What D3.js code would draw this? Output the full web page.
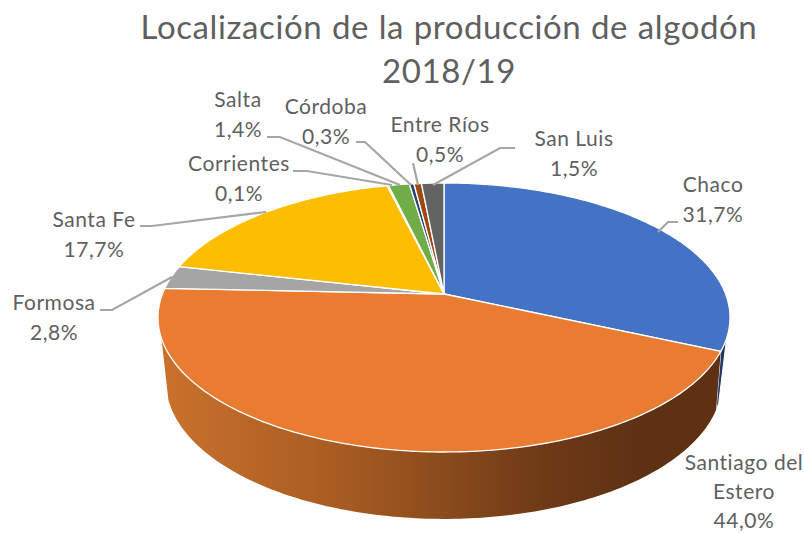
<!DOCTYPE html>
<html><head><meta charset="utf-8">
<script src="https://cdn.jsdelivr.net/npm/d3@7"></script>
<style>html,body{margin:0;background:#fff}svg{display:block}text{font-family:Lato,"Open Sans",sans-serif;fill:#5f5f5f}</style>
</head><body><svg id="c" width="804" height="533"></svg>
<script>
const categories=["Chaco","Santiago del Estero","Formosa","Santa Fe","Corrientes","Salta","Córdoba","Entre Ríos","San Luis"];
const shares=[31.7,44.0,2.8,17.7,0.1,1.4,0.3,0.5,1.5];
const colors=["#4472C4","#EA7C32","#A5A5A5","#FDBD00","#5B9BD5","#70AD47","#264478","#9E480E","#636363"];
const titleLines=["Localización de la producción de algodón","2018/19"];
const labelLines=[["Chaco"],["Santiago del","Estero"],["Formosa"],["Santa Fe"],["Corrientes"],["Salta"],["Córdoba"],["Entre Ríos"],["San Luis"]];
const labelAnchors=[[713,192],[744,470],[54,310],[94,227],[239,171],[238,107],[326,114],[440,132],[574,146]];
const labelSteps=[29.6,29,29.6,29.6,29.6,29.6,29.6,29.6,29.6];
const leaders=[[[678,222],[668,222],[658,232]],null,[[100,310],[112,310],[172,277]],[[140,226],[152,226],[266,212]],[[293,171],[307,171],[392,185]],[[267,137],[280,137],[400,185]],[[356,142],[365,142],[411,185]],[[413,163],[418,185]],[[515,148],[500,148],[433,185]]];

const svg=d3.select("#c");
const K=-0.1747;
const topDisk={x:444,y:294,a:281.6,b:130.4};
const baseDisk={x:444,y:358,a:273.7,b:132.8};
const pt=(d,t)=>{const u=Math.sin(t),v=-Math.cos(t),w=1+K*v;return [d.x+d.a*u/w,d.y+d.b*v/w];};
const arcPts=(d,t0,t1)=>{const n=Math.max(2,Math.ceil(Math.abs(t1-t0)*60));return d3.range(n+1).map(i=>pt(d,t0+(t1-t0)*i/n));};
const line=d3.line().curve(d3.curveLinear);
const rad=x=>x*Math.PI/180;

const pie=d3.pie().sort(null).value(d=>d)(shares);

const defs=svg.append("defs");
const g=defs.append("linearGradient").attr("id","wall").attr("gradientUnits","userSpaceOnUse").attr("x1",158).attr("x2",640).attr("y1",0).attr("y2",0);
[[0,"#CB722C"],[0.4,"#A55A22"],[0.8,"#6E3A16"],[1,"#5E3113"]].forEach(s=>g.append("stop").attr("offset",s[0]).attr("stop-color",s[1]));

// side walls
svg.append("path")
 .attr("d",line([...arcPts(topDisk,rad(108.6),pie[0].endAngle),pt(baseDisk,rad(111.5)),...arcPts(baseDisk,rad(111.5),rad(108.6))])+"Z")
 .attr("fill","#203864").attr("stroke","#fff").attr("stroke-width",1);
svg.append("path")
 .attr("d",line([...arcPts(topDisk,pie[1].startAngle,rad(251.4)),...arcPts(baseDisk,rad(252.7),rad(111.5))])+"Z")
 .attr("fill","url(#wall)");

// top surface
svg.append("g").selectAll("path").data(pie).join("path")
 .attr("d",d=>line([[topDisk.x,topDisk.y],...arcPts(topDisk,d.startAngle,d.endAngle)])+"Z")
 .attr("fill",(d,i)=>colors[i]).attr("stroke","#fff").attr("stroke-width",1.3).attr("stroke-linejoin","round");

// leaders
svg.append("g").selectAll("path").data(leaders.filter(Boolean)).join("path")
 .attr("d",d=>line(d)).attr("fill","none").attr("stroke","#A6A6A6").attr("stroke-width",2.2);

// title
svg.append("g").selectAll("text").data(titleLines).join("text")
 .attr("x",449).attr("y",(d,i)=>38.5+i*44.5).attr("text-anchor","middle")
 .attr("font-size",33).attr("letter-spacing",0.6).attr("word-spacing",0.6).text(d=>d);

// labels
const fmt=v=>v.toFixed(1).replace(".",",")+"%";
const lab=svg.append("g").selectAll("text").data(categories).join("text")
 .attr("text-anchor","middle").attr("font-size",21).attr("letter-spacing",0.55);
lab.each(function(d,i){
  const t=d3.select(this),[x,y]=labelAnchors[i];
  [...labelLines[i],fmt(shares[i])].forEach((s,j)=>t.append("tspan").attr("x",x).attr("y",y+j*labelSteps[i]).text(s));
});
</script></body></html>
